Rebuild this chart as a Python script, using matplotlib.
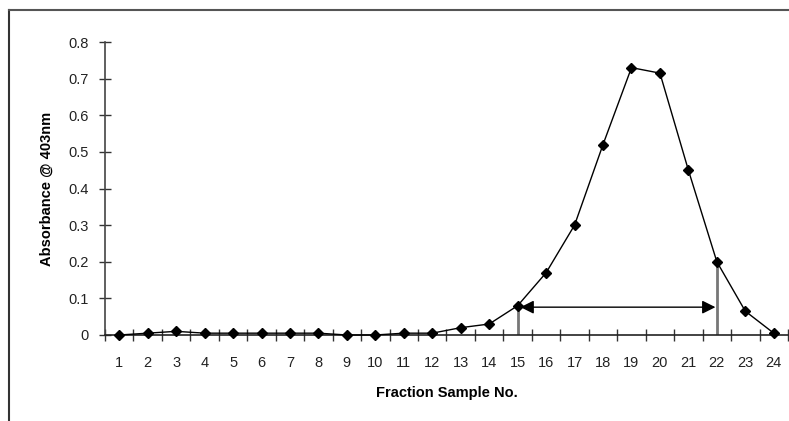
import matplotlib
matplotlib.use("Agg")
import matplotlib.pyplot as plt
from matplotlib.lines import Line2D
import numpy as np

plt.rcParams['font.family'] = ['Liberation Sans', 'DejaVu Sans']

fractions = list(range(1, 25))
absorbance = [0.0, 0.005, 0.01, 0.005, 0.005, 0.005, 0.005, 0.005, 0.0, 0.0,
              0.005, 0.005, 0.02, 0.03, 0.08, 0.17, 0.30, 0.52, 0.73, 0.715,
              0.45, 0.20, 0.065, 0.005]
y_ticks = [0, 0.1, 0.2, 0.3, 0.4, 0.5, 0.6, 0.7, 0.8]
y_tick_labels = ['0', '0.1', '0.2', '0.3', '0.4', '0.5', '0.6', '0.7', '0.8']

# pooled fractions marked by the double arrow
pool_start, pool_end = 15, 22
arrow_level = 0.076

fig = plt.figure(figsize=(7.89, 4.21), dpi=100)
ax = fig.add_axes([105 / 789, 1 - 335 / 421, 683 / 789, 293 / 421])

ax.plot(fractions, absorbance, color='black', lw=1, marker='D', ms=5.5,
        mfc='black', mec='black', clip_on=False, zorder=3)

# vertical markers at the pool edges
for f in (pool_start, pool_end):
    ax.plot([f, f], [0, absorbance[f - 1]], color='#777777', lw=2, zorder=2)

ax.annotate('', xy=(pool_start + 0.1, arrow_level), xytext=(pool_end - 0.05, arrow_level),
            arrowprops=dict(arrowstyle='<|-|>', color='black', lw=1,
                            mutation_scale=20, shrinkA=0, shrinkB=0))

ax.set_xlim(0.5, 24.5)
ax.set_ylim(0, 0.8)
ax.set_xticks(fractions)
ax.set_xticklabels([str(f) for f in fractions])
ax.set_xticks(np.arange(0.5, 25, 1), minor=True)
ax.set_yticks(y_ticks)
ax.set_yticklabels(y_tick_labels)

ax.tick_params(axis='x', which='major', length=0, pad=15, labelsize=10.5, labelcolor='#222222')
ax.tick_params(axis='x', which='minor', direction='inout', length=8, width=1, color='#333333')
ax.tick_params(axis='y', direction='inout', length=8, width=1, color='#333333',
               pad=8, labelsize=10.5, labelcolor='#222222')

for side in ('top', 'right'):
    ax.spines[side].set_visible(False)
ax.spines['left'].set_color('#444444')
ax.spines['bottom'].set_color('#222222')
ax.spines['left'].set_linewidth(1.2)
ax.spines['bottom'].set_linewidth(1.2)

ax.set_xlabel('Fraction Sample No.', fontsize=10.5, fontweight='bold', labelpad=12)
ax.set_ylabel('Absorbance @ 403nm', fontsize=10.5, fontweight='bold', labelpad=10)

# outer frame of the figure
fig.add_artist(Line2D([9 / 789, 9 / 789], [0, 1 - 10 / 421], color='#333333', lw=1.5))
fig.add_artist(Line2D([9 / 789, 1], [1 - 10 / 421, 1 - 10 / 421], color='#555555', lw=1.5))

fig.savefig('out.png', dpi=100)
